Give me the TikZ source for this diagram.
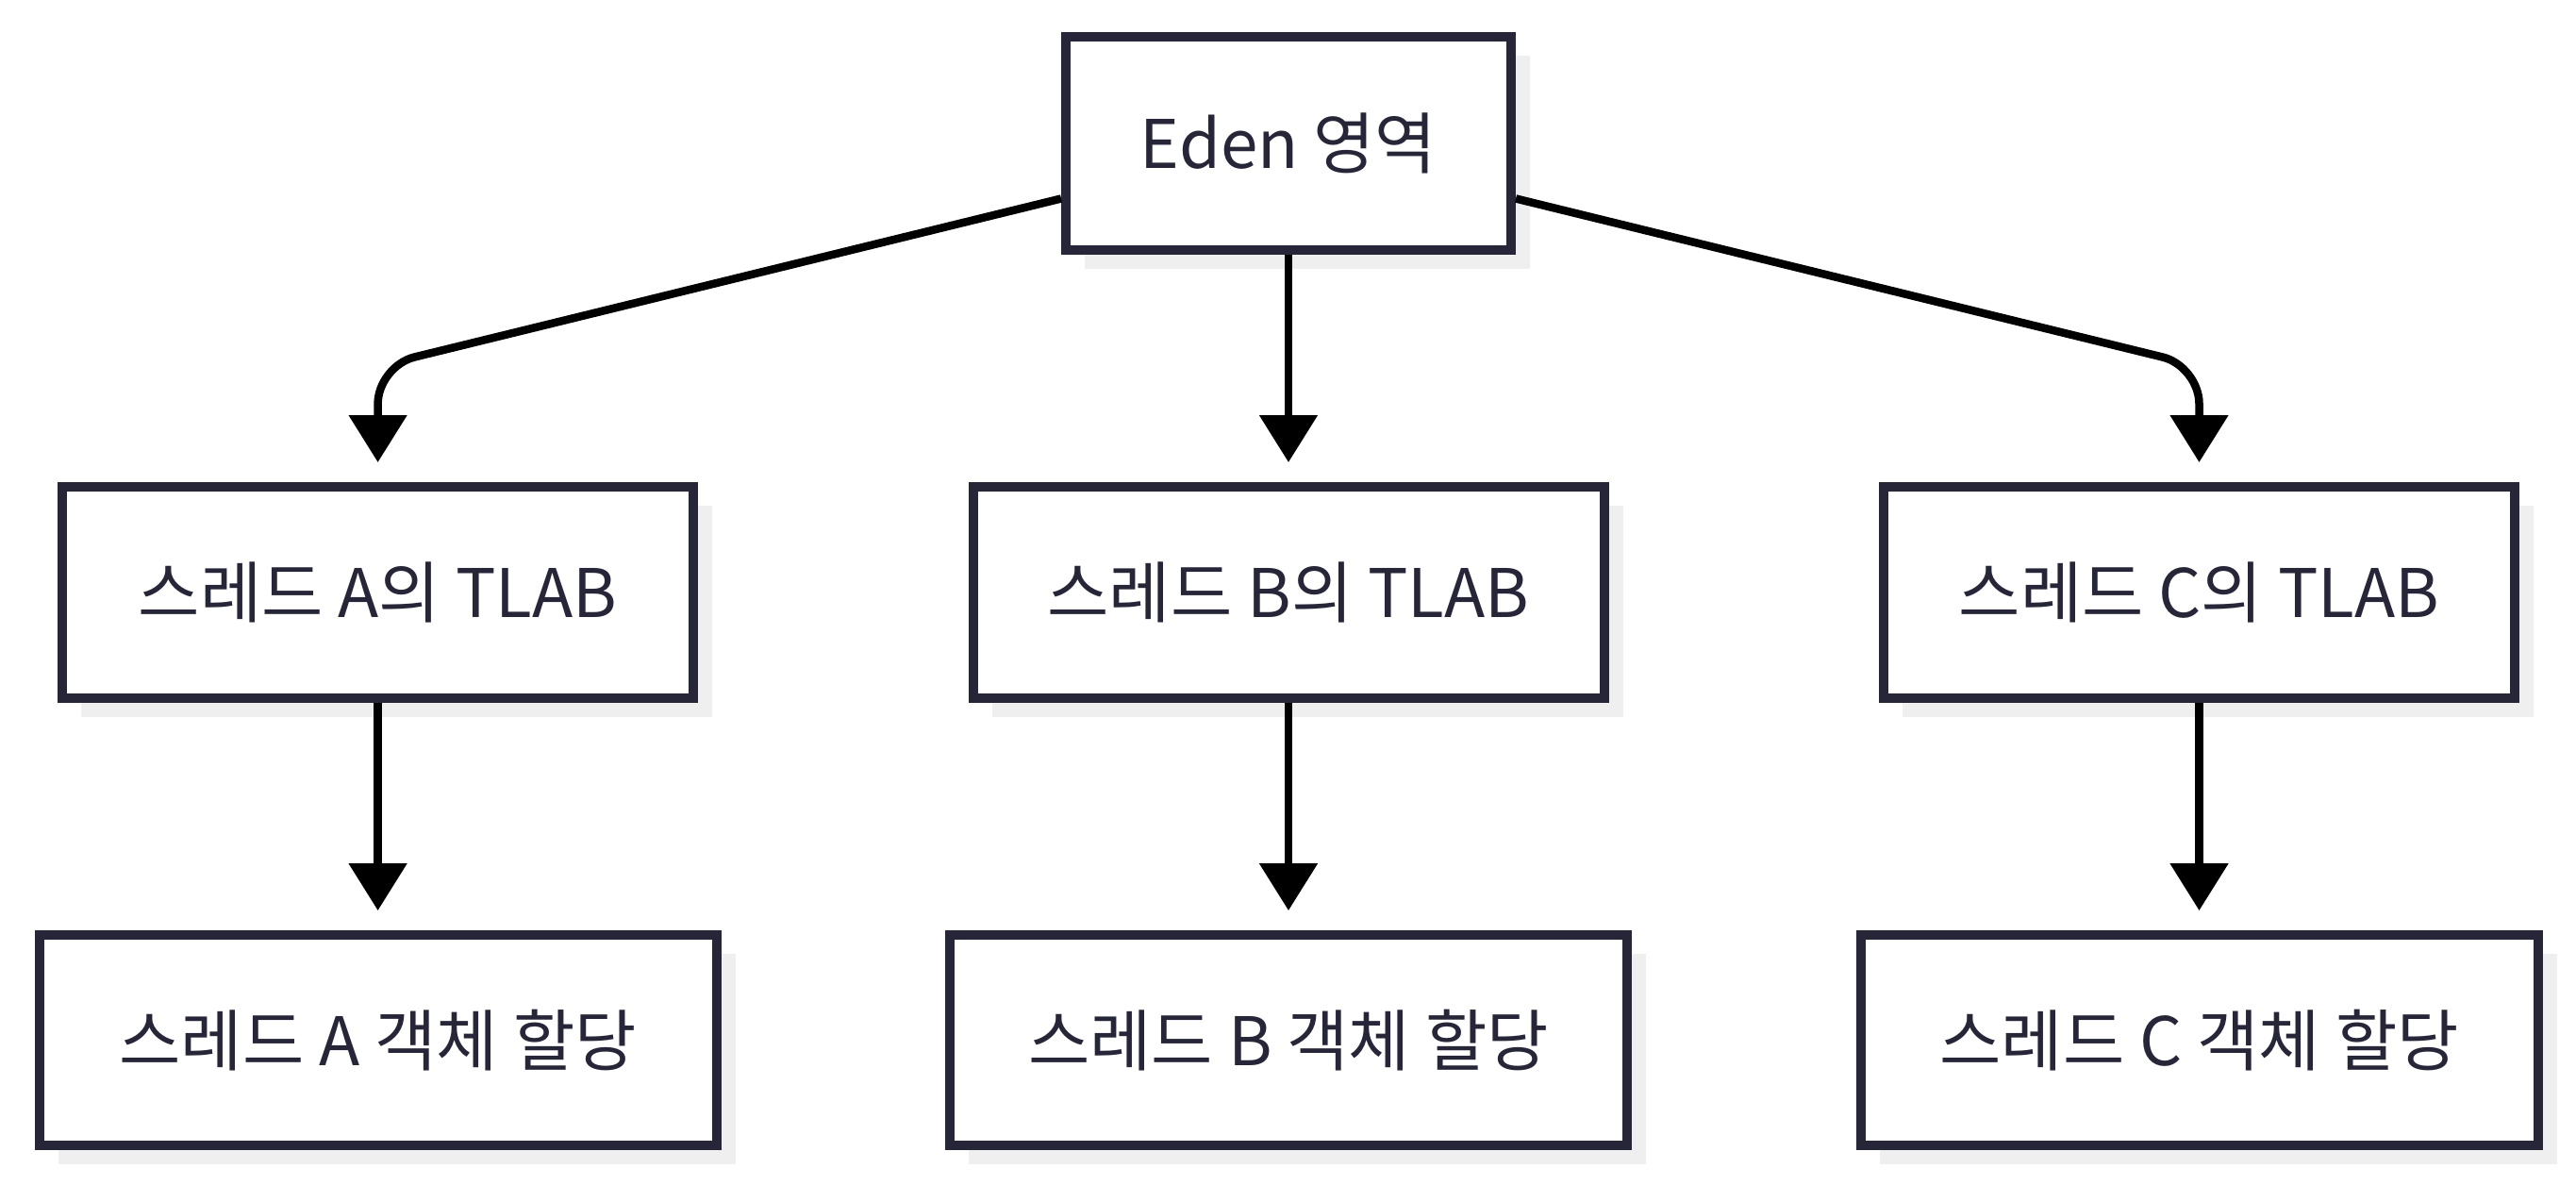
\documentclass[tikz,border=0pt]{standalone}
\usepackage{fontspec}
\setmainfont{Noto Sans CJK KR}
\usetikzlibrary{arrows.meta}
\usetikzlibrary{shadows}

\definecolor{boxline}{HTML}{272639}
\definecolor{shadowgray}{HTML}{EFEFEF}

\tikzset{
  box/.style={draw=boxline, line width=0.1cm, fill=white, text=boxline, inner sep=0pt,
    font=\fontsize{20.2}{24}\selectfont,
    drop shadow={shadow xshift=0.2cm, shadow yshift=-0.2cm, fill=shadowgray, opacity=1}},
  arr/.style={-{Triangle[width=0.6cm,length=0.5cm]}, line width=0.085cm, black, shorten >=0.21cm}
}

\begin{document}
\begin{tikzpicture}
\useasboundingbox (0,0) rectangle (27.31,-12.55);

\node[box, minimum width=4.72cm, minimum height=2.26cm] (eden) at (13.66,-1.515) {Eden 영역};

\foreach \thr/\xpos in {A/4.006, B/13.66, C/23.315} {
  \node[box, minimum width=6.69cm, minimum height=2.24cm] (tlab\thr) at (\xpos,-6.28) {스레드 \thr{}의 TLAB};
  \node[box, minimum width=7.18cm, minimum height=2.23cm] (alloc\thr) at (\xpos,-11.026) {스레드 \thr{} 객체 할당};
  \draw[arr] (tlab\thr) -- (alloc\thr);
}

\draw[arr, rounded corners=0.4cm] ([yshift=-0.59cm]eden.west) -- (tlabA.north |- 0,-3.88) -- (tlabA.north);
\draw[arr] (eden) -- (tlabB);
\draw[arr, rounded corners=0.4cm] ([yshift=-0.59cm]eden.east) -- (tlabC.north |- 0,-3.88) -- (tlabC.north);

\end{tikzpicture}
\end{document}
